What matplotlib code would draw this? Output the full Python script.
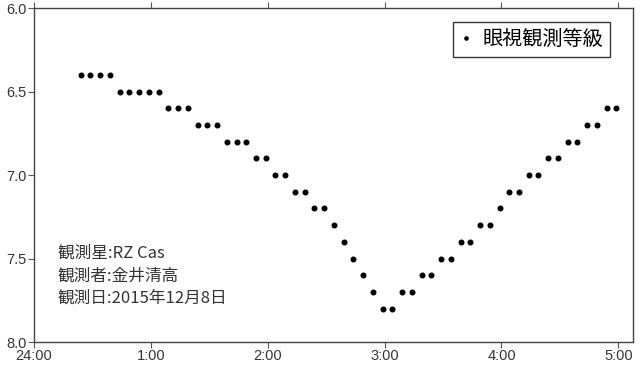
import matplotlib
matplotlib.use('Agg')
import matplotlib.pyplot as plt

plt.rcParams['font.family'] = ['Noto Sans CJK JP', 'DejaVu Sans']

# observation times (minutes after 24:00) and visual magnitudes
minutes = [24, 29, 34, 39, 44, 49, 54, 59, 64, 69, 74, 79, 84, 89, 94, 99,
           104, 109, 114, 119, 124, 129, 134, 139, 144, 149, 154, 159, 164,
           169, 174, 179, 184, 189, 194, 199, 204, 209, 214, 219, 224, 229,
           234, 239, 244, 249, 254, 259, 264, 269, 274, 279, 284, 289, 294, 299]
mags = [6.4, 6.4, 6.4, 6.4, 6.5, 6.5, 6.5, 6.5, 6.5, 6.6, 6.6, 6.6, 6.7, 6.7,
        6.7, 6.8, 6.8, 6.8, 6.9, 6.9, 7.0, 7.0, 7.1, 7.1, 7.2, 7.2, 7.3, 7.4,
        7.5, 7.6, 7.7, 7.8, 7.8, 7.7, 7.7, 7.6, 7.6, 7.5, 7.5, 7.4, 7.4, 7.3,
        7.3, 7.2, 7.1, 7.1, 7.0, 7.0, 6.9, 6.9, 6.8, 6.8, 6.7, 6.7, 6.6, 6.6]

xticks = [0, 60, 120, 180, 240, 300]
xlabels = ['24:00', '1:00', '2:00', '3:00', '4:00', '5:00']
yticks = [6.0, 6.5, 7.0, 7.5, 8.0]
ylabels = ['6.0', '6.5', '7.0', '7.5', '8.0']

info = ['観測星:RZ Cas', '観測者:金井清高', '観測日:2015年12月8日']

fig = plt.figure(figsize=(6.4, 3.65), dpi=100)
ax = fig.add_axes([0.053, 0.063, 0.936, 0.915])

ax.plot(minutes, mags, 'o', color='black', ms=3.3, label='眼視観測等級')

ax.set_xlim(0, 307.5)
ax.set_ylim(8.0, 6.0)
ax.set_xticks(xticks)
ax.set_xticklabels(xlabels)
ax.set_yticks(yticks)
ax.set_yticklabels(ylabels)

ax.tick_params(direction='out', length=4, color='#555555', labelcolor='#333333',
               labelsize=10.5, pad=1, top=True)
for lab in ax.get_xticklabels() + ax.get_yticklabels():
    lab.set_family(['Liberation Sans', 'DejaVu Sans'])
for sp in ax.spines.values():
    sp.set_color('#444444')
    sp.set_linewidth(1.0)

leg = ax.legend(loc='upper right', bbox_to_anchor=(0.962, 0.958), fontsize=14.5,
                frameon=True, fancybox=False, markerscale=0.7,
                handlelength=0.6, handletextpad=0.5, borderpad=0.35,
                borderaxespad=0)
leg.get_frame().set_edgecolor('black')
leg.get_frame().set_linewidth(1.0)

# observation info, one line each
for yy, s in zip([0.267, 0.198, 0.132], info):
    ax.text(0.040, yy, s, transform=ax.transAxes, fontsize=12,
            color='#333333', va='center', ha='left')

fig.savefig('out.png', dpi=100)
